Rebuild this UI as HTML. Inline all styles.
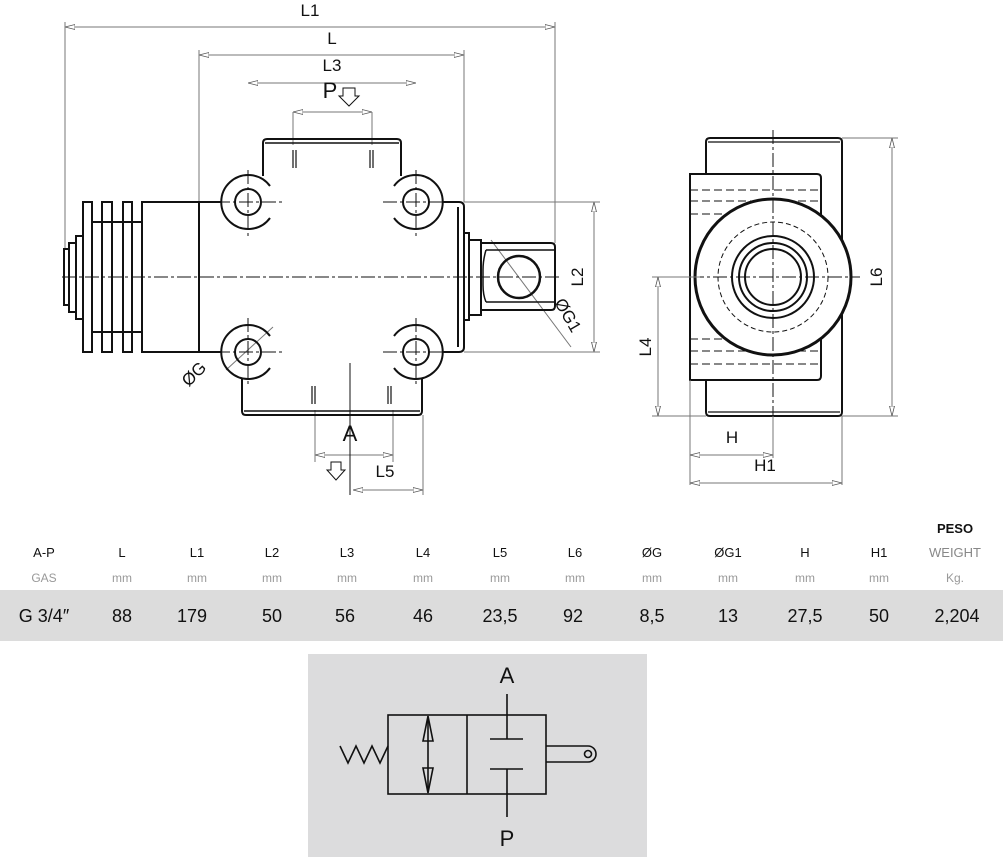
<!DOCTYPE html>
<html><head><meta charset="utf-8"><style>
body{margin:0;background:#fff;}
svg{display:block;}
text{font-family:"Liberation Sans",sans-serif;}
</style></head><body>
<svg width="1003" height="857" viewBox="0 0 1003 857" xmlns="http://www.w3.org/2000/svg">
<defs>
<marker id="ar" viewBox="0 0 10 6" refX="10" refY="3" markerWidth="10" markerHeight="6" orient="auto-start-reverse" markerUnits="userSpaceOnUse"><path d="M0,0.5 L10,3 L0,5.5 Z" fill="#fff" stroke="#555" stroke-width="0.8"/></marker>
</defs>
<g fill="none" stroke="#111" stroke-width="2">
<!-- dims -->
<g stroke="#777" stroke-width="1">
<line x1="65" y1="27" x2="555" y2="27" marker-start="url(#ar)" marker-end="url(#ar)"/>
<line x1="65" y1="22" x2="65" y2="250"/><line x1="555" y1="22" x2="555" y2="243"/>
<line x1="199" y1="55" x2="464" y2="55" marker-start="url(#ar)" marker-end="url(#ar)"/>
<line x1="199" y1="50" x2="199" y2="202"/><line x1="464" y1="50" x2="464" y2="202"/>
<line x1="248" y1="83" x2="416" y2="83" marker-start="url(#ar)" marker-end="url(#ar)"/>
<line x1="293" y1="112" x2="372" y2="112" marker-start="url(#ar)" marker-end="url(#ar)"/>
<line x1="293" y1="112" x2="293" y2="145"/><line x1="372" y1="112" x2="372" y2="145"/>
<line x1="315" y1="455" x2="393" y2="455" marker-start="url(#ar)" marker-end="url(#ar)"/>
<line x1="315" y1="410" x2="315" y2="462"/><line x1="393" y1="410" x2="393" y2="462"/>
<line x1="353" y1="490" x2="423" y2="490" marker-start="url(#ar)" marker-end="url(#ar)"/>
<line x1="423" y1="415" x2="423" y2="495"/>
<line x1="594" y1="202" x2="594" y2="352" marker-start="url(#ar)" marker-end="url(#ar)"/>
<line x1="464" y1="202" x2="600" y2="202"/><line x1="464" y1="352" x2="600" y2="352"/>
<line x1="491" y1="240" x2="571" y2="347"/>
<line x1="226" y1="370" x2="273" y2="327"/>
</g>
<!-- center lines -->
<g stroke="#111" stroke-width="1" stroke-dasharray="14,3,3,3">
<line x1="62" y1="277" x2="560" y2="277"/>
<line x1="248" y1="170" x2="248" y2="236"/><line x1="416" y1="170" x2="416" y2="236"/>
<line x1="248" y1="318" x2="248" y2="386"/><line x1="416" y1="318" x2="416" y2="386"/>
<line x1="216" y1="202" x2="285" y2="202"/><line x1="383" y1="202" x2="448" y2="202"/>
<line x1="216" y1="352" x2="285" y2="352"/><line x1="383" y1="352" x2="448" y2="352"/>
</g>
<line x1="350" y1="363" x2="350" y2="495" stroke-width="1"/>
<!-- left fins -->
<rect x="64" y="249" width="5" height="56"/><rect x="69" y="243" width="7" height="69"/><rect x="76" y="236" width="7" height="83"/>
<rect x="83" y="202" width="9" height="150"/><rect x="102" y="202" width="10" height="150"/><rect x="123" y="202" width="9" height="150"/>
<line x1="92" y1="222" x2="142" y2="222"/><line x1="92" y1="332" x2="142" y2="332"/>
<rect x="142" y="202" width="57" height="150"/>
<!-- body -->
<path d="M199,202 H221 M199,352 H221 M199,202 V352 M442,202 H459 Q464,202 464,207 V347 Q464,352 459,352 H442"/>
<line x1="458" y1="207" x2="458" y2="347"/>
<path d="M263,176 V143 Q263,139 267,139 H397 Q401,139 401,143 V176"/>
<line x1="265" y1="143" x2="399" y2="143" stroke-width="1.5"/>
<path d="M242,378 V411 Q242,415 246,415 H418 Q422,415 422,411 V378"/>
<line x1="244" y1="411" x2="420" y2="411" stroke-width="1.5"/>
<g stroke-width="1.2"><line x1="293" y1="150" x2="293" y2="168"/><line x1="296" y1="150" x2="296" y2="168"/><line x1="370" y1="150" x2="370" y2="168"/><line x1="373" y1="150" x2="373" y2="168"/>
<line x1="312" y1="386" x2="312" y2="404"/><line x1="315" y1="386" x2="315" y2="404"/><line x1="388" y1="386" x2="388" y2="404"/><line x1="391" y1="386" x2="391" y2="404"/></g>
<!-- ears -->
<g>
<circle cx="248" cy="202" r="13"/><circle cx="416" cy="202" r="13"/><circle cx="248" cy="352" r="13"/><circle cx="416" cy="352" r="13"/>
<path d="M270,186 A27,27 0 1 0 270,218"/>
<path d="M394,186 A27,27 0 1 1 394,218"/>
<path d="M270,336 A27,27 0 1 0 270,368"/>
<path d="M394,336 A27,27 0 1 1 394,368"/>
</g>
<!-- right lever -->
<rect x="464" y="233" width="5" height="87"/><rect x="469" y="240" width="12" height="75"/>
<path d="M481,243 H551 Q555,243 555,247 V306 Q555,310 551,310 H481"/>
<path d="M486,250 H555 M486,302 H555 M486,250 Q483,260 483,270 V285 Q483,295 486,302" stroke-width="1.5"/>
<circle cx="519" cy="277" r="21" stroke-width="2.5"/>
<!-- right view -->
<path d="M706,174 V142 Q706,138 710,138 H838 Q842,138 842,142 V412 Q842,416 838,416 H710 Q706,416 706,412 V380"/>
<line x1="708" y1="412" x2="840" y2="412" stroke-width="1.2"/><line x1="708" y1="142" x2="840" y2="142" stroke-width="1.2"/>
<path d="M690,174 H817 Q821,174 821,178 V376 Q821,380 817,380 H690 Z"/>
<g stroke-width="1" stroke-dasharray="8,4"><line x1="690" y1="190" x2="821" y2="190"/><line x1="690" y1="201" x2="821" y2="201"/><line x1="690" y1="214" x2="821" y2="214"/><line x1="690" y1="339" x2="821" y2="339"/><line x1="690" y1="351" x2="821" y2="351"/><line x1="690" y1="364" x2="821" y2="364"/></g>
<circle cx="773" cy="277" r="78" fill="#fff" stroke-width="3"/>
<circle cx="773" cy="277" r="55" stroke-width="1" stroke-dasharray="5,3"/>
<circle cx="773" cy="277" r="41"/><circle cx="773" cy="277" r="34"/><circle cx="773" cy="277" r="28"/>
<g stroke-width="1" stroke-dasharray="14,3,3,3"><line x1="773" y1="130" x2="773" y2="425"/><line x1="690" y1="277" x2="860" y2="277"/></g>
<g stroke="#777" stroke-width="1">
<line x1="842" y1="138" x2="898" y2="138"/><line x1="842" y1="416" x2="898" y2="416"/>
<line x1="892" y1="138" x2="892" y2="416" marker-start="url(#ar)" marker-end="url(#ar)"/>
<line x1="652" y1="277" x2="700" y2="277"/><line x1="652" y1="416" x2="706" y2="416"/>
<line x1="658" y1="277" x2="658" y2="416" marker-start="url(#ar)" marker-end="url(#ar)"/>
<line x1="690" y1="380" x2="690" y2="485"/><line x1="773" y1="416" x2="773" y2="458"/><line x1="842" y1="416" x2="842" y2="485"/>
<line x1="690" y1="455" x2="773" y2="455" marker-start="url(#ar)" marker-end="url(#ar)"/>
<line x1="690" y1="483" x2="842" y2="483" marker-start="url(#ar)" marker-end="url(#ar)"/>
</g>
<!-- P/A arrows -->
<path d="M343,88 H355 V96 H359 L349,106 L339,96 H343 Z" stroke-width="1"/>
<path d="M331,462 H341 V470 H345 L336,480 L327,470 H331 Z" stroke-width="1"/>
</g>
<g fill="#111" font-size="17">
<text x="310" y="16" text-anchor="middle">L1</text>
<text x="332" y="44" text-anchor="middle">L</text>
<text x="332" y="71" text-anchor="middle">L3</text>
<text x="330" y="98" text-anchor="middle" font-size="22">P</text>
<text x="350" y="441" text-anchor="middle" font-size="22">A</text>
<text x="385" y="477" text-anchor="middle">L5</text>
<text transform="translate(583,277) rotate(-90)" text-anchor="middle">L2</text>
<text transform="translate(563,318) rotate(60)" text-anchor="middle">ØG1</text>
<text transform="translate(198,378) rotate(-45)" text-anchor="middle">ØG</text>
<text transform="translate(882,277) rotate(-90)" text-anchor="middle">L6</text>
<text transform="translate(651,347) rotate(-90)" text-anchor="middle">L4</text>
<text x="732" y="443" text-anchor="middle">H</text>
<text x="765" y="471" text-anchor="middle">H1</text>
</g>
<!-- table -->
<rect x="0" y="590" width="1003" height="51" fill="#dcdcdc"/>
<g font-size="13" text-anchor="middle" fill="#111">
<text x="955" y="533" font-weight="bold">PESO</text>
<text x="44" y="557">A-P</text><text x="122" y="557">L</text><text x="197" y="557">L1</text><text x="272" y="557">L2</text><text x="347" y="557">L3</text><text x="423" y="557">L4</text><text x="500" y="557">L5</text><text x="575" y="557">L6</text><text x="652" y="557">ØG</text><text x="728" y="557">ØG1</text><text x="805" y="557">H</text><text x="879" y="557">H1</text>
<text x="955" y="557" fill="#888">WEIGHT</text>
</g>
<g font-size="12" text-anchor="middle" fill="#999">
<text x="44" y="582">GAS</text><text x="122" y="582">mm</text><text x="197" y="582">mm</text><text x="272" y="582">mm</text><text x="347" y="582">mm</text><text x="423" y="582">mm</text><text x="500" y="582">mm</text><text x="575" y="582">mm</text><text x="652" y="582">mm</text><text x="728" y="582">mm</text><text x="805" y="582">mm</text><text x="879" y="582">mm</text><text x="955" y="582">Kg.</text>
</g>
<g font-size="18" text-anchor="middle" fill="#111">
<text x="44" y="622">G 3/4″</text><text x="122" y="622">88</text><text x="192" y="622">179</text><text x="272" y="622">50</text><text x="345" y="622">56</text><text x="423" y="622">46</text><text x="500" y="622">23,5</text><text x="573" y="622">92</text><text x="652" y="622">8,5</text><text x="728" y="622">13</text><text x="805" y="622">27,5</text><text x="879" y="622">50</text><text x="957" y="622">2,204</text>
</g>
<!-- symbol -->
<rect x="308" y="654" width="339" height="203" fill="#dcdcdd"/>
<g fill="none" stroke="#111" stroke-width="1.6">
<rect x="388" y="715" width="158" height="79"/>
<line x1="467" y1="715" x2="467" y2="794"/>
<line x1="428" y1="718" x2="428" y2="791"/>
<path d="M428,716 L423,741 H433 Z M428,793 L423,768 H433 Z"/>
<path d="M340,746 L348,763 L356,746 L364,763 L372,746 L380,763 L388,746"/>
<path d="M507,694 V739 M490,739 H523 M490,769 H523 M507,769 V817"/>
<path d="M546,746 H588 A8,8 0 0 1 588,762 H546"/>
<circle cx="588" cy="754" r="3.5"/>
</g>
<g font-size="22" text-anchor="middle" fill="#111"><text x="507" y="683">A</text><text x="507" y="846">P</text></g>
</svg>
</body></html>
